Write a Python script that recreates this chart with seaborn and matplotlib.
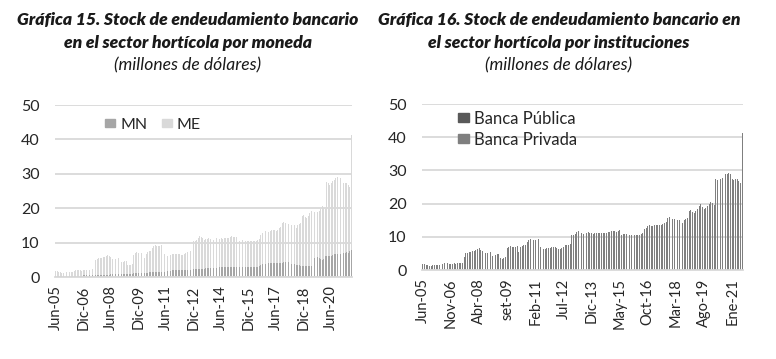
"""
Stock de endeudamiento bancario en el sector hortícola
Gráfica 15 (por moneda) y Gráfica 16 (por instituciones)
"""

import pandas as pd
import matplotlib
matplotlib.use("Agg")
import matplotlib.pyplot as plt
from matplotlib.patches import Patch
import seaborn as sns

sns.set_style("white")
plt.rcParams['font.family'] = ['Lato', 'DejaVu Sans']

# meses: jun-05 ... jul-21
meses = pd.date_range('2005-06-01', periods=194, freq='MS')

# stock total (millones de dólares)
stock_total = [
    1.8, 1.7, 1.6, 1.4, 1.3, 1.3, 1.4, 1.4, 1.5, 1.4, 1.5, 1.6, 1.7, 2.1, 2.0, 2.0, 1.9, 1.8, 1.9, 2.0,
    1.9, 2.0, 2.1, 2.1, 2.2, 3.8, 5.0, 5.2, 5.4, 5.5, 5.6, 5.8, 5.9, 6.2, 6.5, 6.0, 5.8, 5.2, 5.1, 5.2,
    6.4, 5.5, 4.2, 4.4, 4.5, 4.7, 4.7, 3.5, 3.4, 3.6, 3.8, 6.5, 7.0, 7.2, 7.0, 7.0, 7.0, 7.1, 5.5, 6.8,
    7.2, 7.5, 7.6, 8.5, 9.0, 9.2, 9.1, 9.0, 9.0, 9.2, 9.3, 6.8, 6.3, 6.2, 6.4, 6.5, 6.6, 6.7, 6.8, 6.8,
    6.8, 6.6, 6.4, 6.4, 6.7, 7.0, 7.4, 7.5, 7.6, 7.8, 10.5, 10.6, 10.8, 11.3, 11.8, 11.5, 11.2, 10.7, 11.0, 11.1,
    11.3, 11.0, 11.0, 10.8, 11.0, 11.2, 11.0, 11.1, 11.2, 11.1, 11.2, 11.2, 11.3, 11.4, 11.6, 11.8, 11.7, 11.5, 11.6, 11.9,
    10.5, 10.7, 10.7, 10.7, 10.6, 10.4, 10.6, 10.5, 10.6, 10.5, 10.6, 10.5, 10.8, 11.0, 12.2, 12.8, 13.2, 13.5, 13.4, 13.2,
    13.5, 13.7, 13.6, 13.7, 13.5, 13.8, 14.2, 14.5, 15.8, 15.9, 15.8, 15.4, 15.3, 15.2, 15.2, 15.1, 15.0, 14.3, 15.0, 15.4,
    15.7, 17.8, 18.0, 17.5, 17.2, 17.7, 18.5, 19.2, 20.0, 19.0, 18.5, 18.8, 19.2, 19.8, 20.5, 20.2, 19.7, 27.5, 27.2, 26.8,
    27.3, 27.8, 28.2, 28.8, 29.0, 29.2, 28.8, 27.5, 27.2, 27.3, 27.4, 26.8, 26.2, 41.2,
]

# moneda nacional (el resto es moneda extranjera)
stock_mn = [
    0.3, 0.3, 0.3, 0.3, 0.3, 0.3, 0.3, 0.3, 0.3, 0.4, 0.4, 0.4, 0.4, 0.4, 0.4, 0.4, 0.4, 0.4, 0.5, 0.5,
    0.5, 0.5, 0.5, 0.5, 0.5, 0.5, 0.6, 0.6, 0.6, 0.6, 0.6, 0.7, 0.7, 0.7, 0.7, 0.7, 0.8, 0.8, 0.8, 0.8,
    0.8, 0.8, 0.9, 0.9, 0.9, 0.9, 0.9, 1.0, 1.0, 1.0, 1.0, 1.1, 1.1, 1.2, 1.2, 1.2, 1.3, 1.3, 1.3, 1.3,
    1.3, 1.4, 1.4, 1.4, 1.4, 1.5, 1.5, 1.5, 1.5, 1.6, 1.6, 1.6, 1.7, 1.8, 1.8, 1.8, 1.9, 1.9, 1.9, 1.9,
    2.0, 2.0, 2.0, 2.0, 2.0, 2.1, 2.1, 2.1, 2.1, 2.1, 2.2, 2.2, 2.3, 2.3, 2.3, 2.4, 2.4, 2.4, 2.5, 2.5,
    2.5, 2.5, 2.6, 2.6, 2.6, 2.6, 2.8, 2.8, 2.8, 2.8, 2.9, 2.9, 2.9, 2.9, 2.9, 2.9, 3.0, 3.0, 3.0, 3.0,
    2.9, 2.9, 2.9, 2.9, 3.0, 3.0, 3.0, 3.0, 3.0, 3.0, 3.0, 3.0, 3.0, 3.1, 3.5, 3.7, 3.8, 3.9, 4.0, 4.0,
    4.0, 4.1, 4.0, 4.0, 4.0, 4.0, 4.1, 4.0, 4.2, 4.4, 4.5, 4.5, 4.4, 4.0, 3.8, 3.8, 3.7, 3.6, 3.6, 3.4,
    3.3, 3.3, 3.3, 3.3, 3.2, 3.2, 3.3, 3.3, 3.3, 5.6, 5.7, 5.7, 5.6, 5.1, 5.0, 5.1, 6.0, 6.1, 6.1, 6.2,
    6.1, 6.3, 6.6, 6.6, 6.7, 6.6, 6.7, 7.0, 7.1, 7.1, 7.2, 7.1, 7.5, 7.8,
]

# banca pública (el resto es banca privada)
stock_publica = [
    0.1, 0.1, 0.1, 0.1, 0.1, 0.1, 0.1, 0.1, 0.1, 0.1, 0.1, 0.1, 0.1, 0.1, 0.1, 0.1, 0.1, 0.1, 0.1, 0.1,
    0.1, 0.1, 0.1, 0.1, 0.1, 0.2, 0.2, 0.2, 0.2, 0.2, 0.2, 0.2, 0.2, 0.2, 0.2, 0.2, 0.2, 0.2, 0.2, 0.2,
    0.2, 0.2, 0.2, 0.2, 0.2, 0.2, 0.2, 0.2, 0.2, 0.2, 0.2, 0.2, 0.2, 0.2, 0.2, 0.2, 0.2, 0.2, 0.2, 0.2,
    0.2, 0.2, 0.2, 0.2, 0.2, 0.2, 0.2, 0.2, 0.2, 0.2, 0.2, 0.2, 0.2, 0.2, 0.2, 0.2, 0.2, 0.2, 0.2, 0.2,
    0.2, 0.2, 0.2, 0.2, 0.2, 0.2, 0.2, 0.2, 0.2, 0.2, 0.3, 0.3, 0.3, 0.3, 0.3, 0.3, 0.3, 0.3, 0.3, 0.3,
    0.3, 0.3, 0.3, 0.3, 0.3, 0.3, 0.3, 0.3, 0.3, 0.3, 0.3, 0.3, 0.3, 0.3, 0.3, 0.3, 0.3, 0.3, 0.3, 0.3,
    0.3, 0.3, 0.3, 0.3, 0.3, 0.3, 0.3, 0.3, 0.3, 0.3, 0.3, 0.3, 0.3, 0.3, 0.3, 0.3, 0.3, 0.3, 0.3, 0.3,
    0.3, 0.3, 0.3, 0.3, 0.3, 0.3, 0.3, 0.3, 0.3, 0.3, 0.3, 0.3, 0.3, 0.3, 0.3, 0.3, 0.3, 0.3, 0.3, 0.3,
    0.3, 0.3, 0.3, 0.3, 0.3, 0.3, 0.3, 0.3, 0.3, 0.3, 0.3, 0.3, 0.3, 0.3, 0.3, 0.3, 0.3, 0.4, 0.4, 0.4,
    0.4, 0.4, 0.4, 0.4, 0.4, 0.4, 0.4, 0.4, 0.4, 0.4, 0.4, 0.4, 0.4, 0.4,
]

etiquetas_15 = ['Jun-05', 'Dic-06', 'Jun-08', 'Dic-09', 'Jun-11', 'Dic-12',
                'Jun-14', 'Dic-15', 'Jun-17', 'Dic-18', 'Jun-20']
etiquetas_16 = ['Jun-05', 'Nov-06', 'Abr-08', 'set-09', 'Feb-11', 'Jul-12',
                'Dic-13', 'May-15', 'Oct-16', 'Mar-18', 'Ago-19', 'Ene-21']

df = pd.DataFrame({
    'mes': range(len(meses)),
    'total': stock_total,
    'mn': stock_mn,
    'publica': stock_publica,
})

C_MN, C_ME = '#a6a6a6', '#d9d9d9'
C_PUB, C_PRIV = '#595959', '#7f7f7f'
C_GRID = '#d9d9d9'
BARRA = dict(width=0.55, saturation=1, linewidth=0, edgecolor='none')
LEYENDA = dict(loc='upper left', frameon=False, handlelength=0.65, handleheight=0.45,
               handletextpad=0.3, labelcolor='#262626')

fig = plt.figure(figsize=(7.76, 3.59), dpi=100)
ax1 = fig.add_axes([0.0709, 0.2284, 0.3827, 0.4791])
ax2 = fig.add_axes([0.5438, 0.2479, 0.4137, 0.4624])


def estilo_eje(ax, paso, etiquetas):
    ax.set_ylim(0, 50)
    ax.set_yticks(range(0, 51, 10))
    ax.set_xlim(-0.5, len(meses) - 0.5)
    ax.set_xticks(range(0, len(meses), paso)[:len(etiquetas)])
    ax.set_xticklabels(etiquetas, rotation=90, fontsize=10.5, color='#262626')
    ax.tick_params(axis='y', labelsize=11.5, labelcolor='#262626', length=0, pad=11)
    ax.tick_params(axis='x', length=0, pad=6)
    ax.yaxis.grid(True, color=C_GRID, linewidth=1.3)
    ax.set_axisbelow(True)
    for s in ['top', 'right', 'left']:
        ax.spines[s].set_visible(False)
    ax.spines['bottom'].set_color(C_GRID)
    ax.spines['bottom'].set_linewidth(1.3)
    ax.set_xlabel('')
    ax.set_ylabel('')


# Gráfica 15: por moneda
sns.barplot(data=df, x='mes', y='total', color=C_ME, ax=ax1, **BARRA)
sns.barplot(data=df, x='mes', y='mn', color=C_MN, ax=ax1, **BARRA)
estilo_eje(ax1, 18, etiquetas_15)
ax1.legend(handles=[Patch(color=C_MN, label='MN'), Patch(color=C_ME, label='ME')],
           bbox_to_anchor=(0.12, 1.01), ncol=2, fontsize=11.5, columnspacing=0.9,
           **LEYENDA)

# Gráfica 16: por instituciones
sns.barplot(data=df, x='mes', y='total', color=C_PRIV, ax=ax2, **BARRA)
sns.barplot(data=df, x='mes', y='publica', color=C_PUB, ax=ax2, **BARRA)
estilo_eje(ax2, 17, etiquetas_16)
ax2.legend(handles=[Patch(color=C_PUB, label='Banca Pública'),
                    Patch(color=C_PRIV, label='Banca Privada')],
           bbox_to_anchor=(0.065, 1.05), fontsize=12, labelspacing=0.3,
           **LEYENDA)

# títulos
for xc, lineas in [(188, ['Gráfica 15. Stock de endeudamiento bancario',
                          'en el sector hortícola por moneda']),
                   (559, ['Gráfica 16. Stock de endeudamiento bancario en',
                          'el sector hortícola por instituciones'])]:
    for i, linea in enumerate(lineas):
        fig.text(xc / 776, 1 - (20 + 23 * i) / 359, linea, ha='center', va='center',
                 fontsize=12.6, fontweight='heavy', fontstyle='italic', color='#1a1a1a')
    fig.text(xc / 776, 1 - 65 / 359, '(millones de dólares)', ha='center', va='center',
             fontsize=12.6, fontstyle='italic', color='#1a1a1a')

fig.savefig('out.png', dpi=100)
